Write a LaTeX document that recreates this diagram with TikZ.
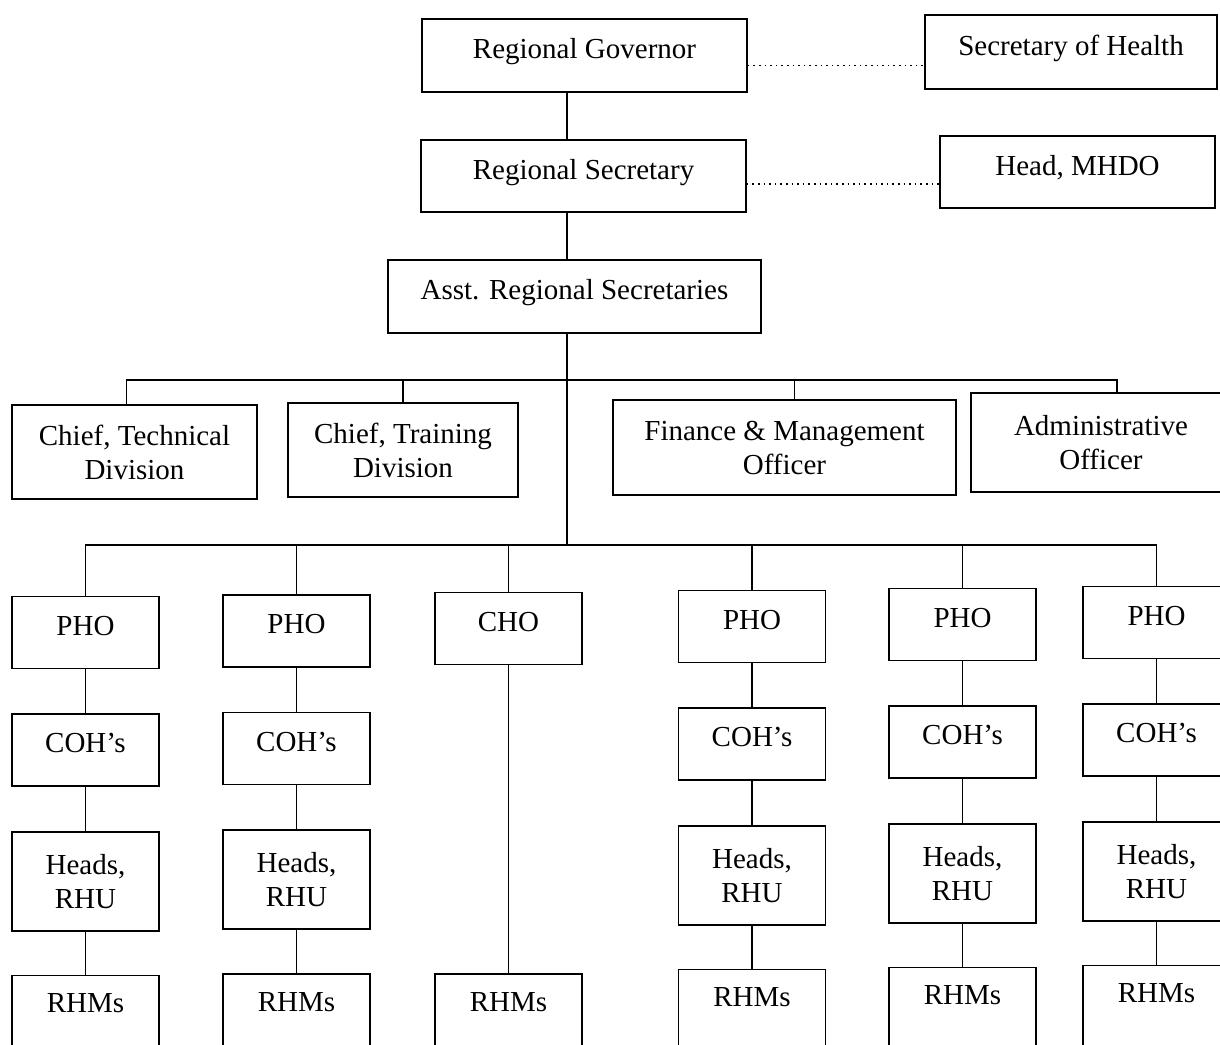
\documentclass[tikz,border=0pt]{standalone}
\usepackage{fontspec}
\setmainfont{Liberation Serif}
\usetikzlibrary{positioning}
\begin{document}
\begin{tikzpicture}[x=0.5pt,y=-0.5pt]
        \tikzstyle{frame} = [rectangle, draw=black, line width=0.8pt, minimum width=73.5pt, minimum height=36pt, inner sep=2pt, text centered, align=center, font=\fontsize{14.5}{17}\selectfont]
        \tikzstyle{box} = [frame, text depth=7pt]
        \tikzstyle{tall} = [frame, minimum height=49.5pt]
        \tikzstyle{last} = [frame, minimum height=46pt, text depth=18pt]
        \tikzstyle{line} = [line width=0.8pt]
        \tikzstyle{link} = [line width=0.8pt, dotted]
        \useasboundingbox (0,0) rectangle (1220,1044);
        \clip (0,0) rectangle (1220,1044);

        % top of the chart
        \node (gov) [box, minimum width=162.5pt, minimum height=36.5pt] at (584.5,55.5) {Regional Governor};
        \node (sechealth) [box, minimum width=146pt, minimum height=37pt] at (1071,52) {Secretary of Health};
        \node (regsec) [box, minimum width=162.5pt] at (583.5,176) {Regional Secretary};
        \node (mhdo) [box, minimum width=137.5pt] at (1077.5,172) {Head, MHDO};
        \node (asst) [box, minimum width=186.5pt, minimum height=36.5pt] at (574.5,296.5) {Asst. Regional Secretaries};

        % staff offices
        \node (tech) [frame, minimum width=122.5pt, minimum height=47pt] at (134.5,452) {Chief, Technical\\Division};
        \node (train) [frame, minimum width=115pt, minimum height=47pt] at (403,450) {Chief, Training\\Division};
        \node (fin) [frame, minimum width=171.5pt, minimum height=47.5pt] at (784.5,447.5) {Finance \& Management\\Officer};
        \node (admin) [frame, minimum width=130pt, minimum height=49.5pt] at (1101,442.5) {Administrative\\Officer};

        % provincial and city offices
        \node (pho1) [box] at (85.5,632.5) {PHO};
        \node (pho2) [box] at (296.5,631) {PHO};
        \node (cho) [box] at (508.5,628.5) {CHO};
        \node (pho4) [box] at (752,626.5) {PHO};
        \node (pho5) [box] at (962.5,624.5) {PHO};
        \node (pho6) [box] at (1156.5,622.5) {PHO};

        \node (coh1) [box, below=22pt of pho1] {COH's};
        \node (coh2) [box, below=22pt of pho2] {COH's};
        \node (coh4) [box, below=22pt of pho4] {COH's};
        \node (coh5) [box, below=22pt of pho5] {COH's};
        \node (coh6) [box, below=22pt of pho6] {COH's};

        \node (rhu1) [tall, below=22pt of coh1] {Heads,\\RHU};
        \node (rhu2) [tall, below=22pt of coh2] {Heads,\\RHU};
        \node (rhu4) [tall, below=22pt of coh4] {Heads,\\RHU};
        \node (rhu5) [tall, below=22pt of coh5] {Heads,\\RHU};
        \node (rhu6) [tall, below=22pt of coh6] {Heads,\\RHU};

        \node (rhm1) [last, below=21.5pt of rhu1] {RHMs};
        \node (rhm2) [last, below=21.5pt of rhu2] {RHMs};
        \node (rhm3) [last] at (cho |- rhm2) {RHMs};
        \node (rhm4) [last, below=21.5pt of rhu4] {RHMs};
        \node (rhm5) [last, below=21.5pt of rhu5] {RHMs};
        \node (rhm6) [last, below=21.5pt of rhu6] {RHMs};

        % connectors
        \coordinate (trunk) at (567,0);
        \coordinate (bar1) at (0,380);
        \coordinate (bar2) at (0,545);
        \draw [line] (trunk |- gov.south) -- (trunk |- regsec.north);
        \draw [line] (trunk |- regsec.south) -- (trunk |- asst.north);
        \draw [line] (trunk |- asst.south) -- (trunk |- bar2);
        \draw [link] ([yshift=-5pt]gov.east) -- ([yshift=-5pt]gov.east -| sechealth.west);
        \draw [link] ([yshift=-4pt]regsec.east) -- ([yshift=-4pt]regsec.east -| mhdo.west);

        \draw [line] ([xshift=-4pt]tech.north) -- ([xshift=-4pt]tech.north |- bar1) -- ([xshift=8pt]admin.north |- bar1) -- ([xshift=8pt]admin.north);
        \draw [line] (train.north) -- (train.north |- bar1);
        \draw [line] ([xshift=5pt]fin.north) -- ([xshift=5pt]fin.north |- bar1);

        \draw [line] (pho1.north) -- (pho1.north |- bar2) -- (pho6.north |- bar2) -- (pho6.north);
        \draw [line] (pho2.north) -- (pho2.north |- bar2);
        \draw [line] (cho.north) -- (cho.north |- bar2);
        \draw [line] (pho4.north) -- (pho4.north |- bar2);
        \draw [line] (pho5.north) -- (pho5.north |- bar2);

        \draw [line] (pho1) -- (coh1);
        \draw [line] (coh1) -- (rhu1);
        \draw [line] (rhu1) -- (rhm1);
        \draw [line] (pho2) -- (coh2);
        \draw [line] (coh2) -- (rhu2);
        \draw [line] (rhu2) -- (rhm2);
        \draw [line] (cho) -- (rhm3);
        \draw [line] (pho4) -- (coh4);
        \draw [line] (coh4) -- (rhu4);
        \draw [line] (rhu4) -- (rhm4);
        \draw [line] (pho5) -- (coh5);
        \draw [line] (coh5) -- (rhu5);
        \draw [line] (rhu5) -- (rhm5);
        \draw [line] (pho6) -- (coh6);
        \draw [line] (coh6) -- (rhu6);
        \draw [line] (rhu6) -- (rhm6);

    \end{tikzpicture}
\end{document}
